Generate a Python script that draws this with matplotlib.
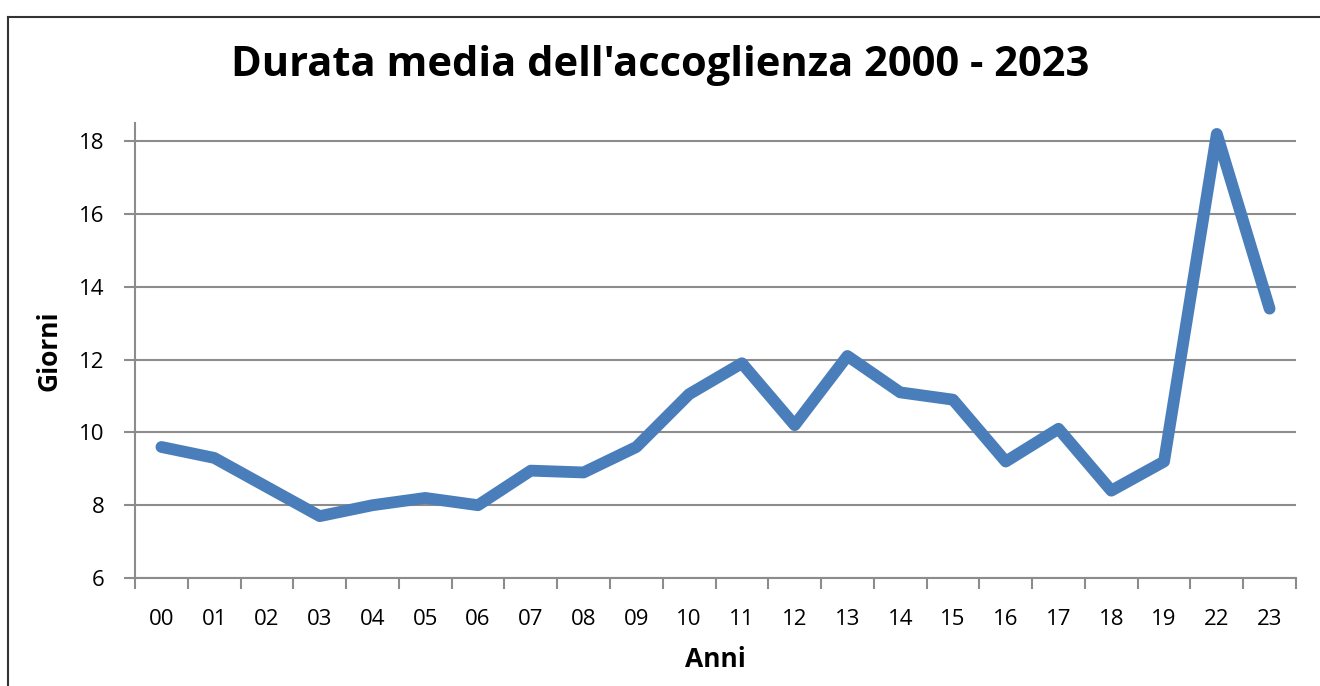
import matplotlib.pyplot as plt
from matplotlib.lines import Line2D
import numpy as np

# data
anni = ["00", "01", "02", "03", "04", "05", "06", "07", "08", "09", "10",
        "11", "12", "13", "14", "15", "16", "17", "18", "19", "22", "23"]
giorni = [9.6, 9.3, 8.5, 7.7, 8.0, 8.2, 8.0, 8.95, 8.9, 9.6, 11.05,
          11.9, 10.2, 12.1, 11.1, 10.9, 9.2, 10.1, 8.4, 9.2, 18.2, 13.4]
y_ticks = [6, 8, 10, 12, 14, 16, 18]

plt.rcParams["font.family"] = ["Open Sans", "DejaVu Sans"]

fig = plt.figure(figsize=(13.2, 6.86), dpi=100)
ax = fig.add_axes([0.1023, 0.1574, 0.8795, 0.6633])

x = np.arange(len(anni))
ax.plot(x, giorni, color="#4A7EBB", lw=8.5, solid_joinstyle="round", solid_capstyle="round", zorder=3)

ax.set_xlim(-0.5, len(anni) - 0.5)
ax.set_ylim(6, 18.5)
ax.set_yticks(y_ticks)
ax.set_yticklabels([str(v) for v in y_ticks], fontsize=16)
ax.grid(axis="y", color="#8c8c8c", lw=1.5)

# category boundaries as tick marks, labels centred
ax.set_xticks(np.arange(-0.5, len(anni), 1.0))
ax.set_xticklabels([])
ax.set_xticks(x, minor=True)
ax.set_xticklabels(anni, minor=True, fontsize=16)
ax.tick_params(axis="x", which="major", length=8, width=1.5, color="#8c8c8c", direction="out")
ax.tick_params(axis="x", which="minor", length=0, pad=22)
ax.tick_params(axis="y", length=8, width=1.5, color="#8c8c8c", pad=14)

for s in ["top", "right"]:
    ax.spines[s].set_visible(False)
for s in ["left", "bottom"]:
    ax.spines[s].set_color("#8c8c8c")
    ax.spines[s].set_linewidth(1.5)

ax.set_ylabel("Giorni", fontsize=19, fontweight="bold", labelpad=12)
ax.set_xlabel("Anni", fontsize=19, fontweight="bold", labelpad=12)
fig.text(0.5, 0.905, "Durata media dell'accoglienza 2000 - 2023", ha="center", va="center",
         fontsize=30, fontweight="bold")

# outer frame: only top and left edges visible
fig.lines.append(Line2D([0.006, 0.006], [0.0, 0.975], transform=fig.transFigure, color="#333333", lw=1.5))
fig.lines.append(Line2D([0.006, 1.0], [0.975, 0.975], transform=fig.transFigure, color="#333333", lw=1.5))

fig.savefig("out.png", dpi=100)
